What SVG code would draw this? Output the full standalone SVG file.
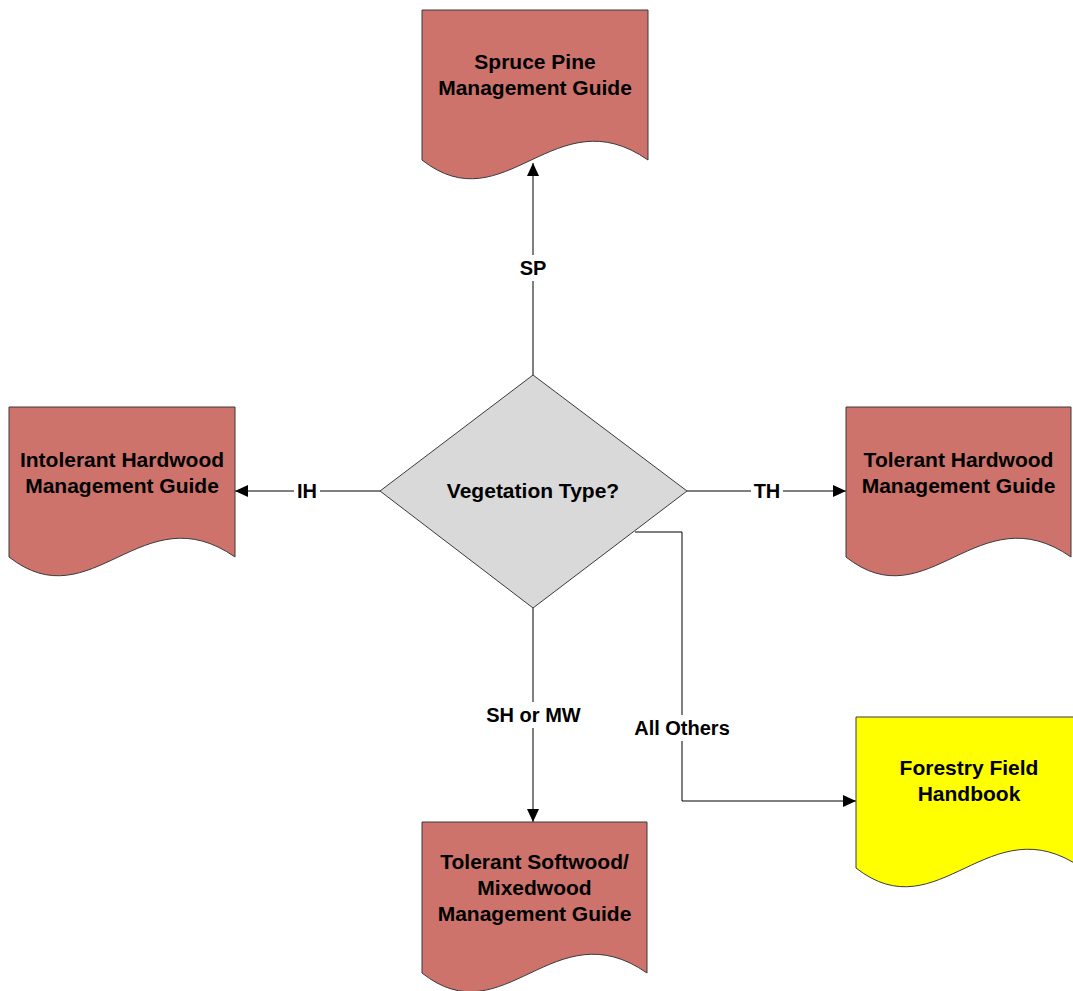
<svg xmlns="http://www.w3.org/2000/svg" width="1073" height="991" viewBox="0 0 1073 991">
<style>
.doc{fill:#CD736C;stroke:#3a3a3a;stroke-width:1}
.yel{fill:#FFFF00;stroke:#3a3a3a;stroke-width:1}
.dia{fill:#D9D9D9;stroke:#3a3a3a;stroke-width:1}
.t{font-family:"Liberation Sans",Arial,sans-serif;font-weight:bold;font-size:21px;fill:#000;text-anchor:middle}
.l{font-family:"Liberation Sans",Arial,sans-serif;font-weight:bold;font-size:20px;fill:#000;text-anchor:middle}
.c{fill:none;stroke:#000;stroke-width:1}
.lb{fill:#fff}
</style>
<defs>
<marker id="ah" markerUnits="userSpaceOnUse" markerWidth="14" markerHeight="12" refX="13" refY="6" orient="auto">
<path d="M0,0 L13,6 L0,12 z" fill="#000"/>
</marker>
</defs>
<rect width="1073" height="991" fill="#fff"/>
<g id="connectors">
<path class="c" d="M533,375 V163" marker-end="url(#ah)"/>
<path class="c" d="M380,491 H235" marker-end="url(#ah)"/>
<path class="c" d="M687,491 H846" marker-end="url(#ah)"/>
<path class="c" d="M533,608 V822" marker-end="url(#ah)"/>
<path class="c" d="M635,532 H682 V801 H856" marker-end="url(#ah)"/>
<rect class="lb" x="517" y="255" width="33" height="26"/>
<text class="l" x="533" y="275">SP</text>
<rect class="lb" x="294" y="478" width="26" height="26"/>
<text class="l" x="307" y="498">IH</text>
<rect class="lb" x="751" y="478" width="32" height="26"/>
<text class="l" x="767" y="498">TH</text>
<rect class="lb" x="482" y="702" width="103" height="26"/>
<text class="l" x="533.5" y="722">SH or MW</text>
<rect class="lb" x="632" y="715" width="100" height="26"/>
<text class="l" x="682" y="735">All Others</text>
</g>
<g id="spruce-pine">
<path class="doc" d="M422,10 H648 V160 C555,95 505,225 422,160 Z"/>
<text class="t" x="535" y="69">Spruce Pine</text>
<text class="t" x="535" y="95">Management Guide</text>
</g>
<g id="intolerant-hardwood">
<path class="doc" d="M9,407 H235 V557 C142,492 92,622 9,557 Z"/>
<text class="t" x="122" y="467">Intolerant Hardwood</text>
<text class="t" x="122" y="493">Management Guide</text>
</g>
<g id="tolerant-hardwood">
<path class="doc" d="M846,407 H1071 V557 C978,492 928,622 846,557 Z"/>
<text class="t" x="958.5" y="467">Tolerant Hardwood</text>
<text class="t" x="958.5" y="493">Management Guide</text>
</g>
<g id="forestry-field-handbook">
<path class="yel" d="M856,717 H1082 V868 C989,803 939,933 856,868 Z"/>
<text class="t" x="969" y="775">Forestry Field</text>
<text class="t" x="969" y="801">Handbook</text>
</g>
<g id="tolerant-softwood">
<path class="doc" d="M422,822 H647 V973 C554,908 504,1038 422,973 Z"/>
<text class="t" x="534.5" y="869">Tolerant Softwood/</text>
<text class="t" x="534.5" y="895">Mixedwood</text>
<text class="t" x="534.5" y="921">Management Guide</text>
</g>
<g id="vegetation-type">
<path class="dia" d="M533,375 L687,491 L533,608 L380,491 Z"/>
<text class="t" x="533" y="498">Vegetation Type?</text>
</g>
</svg>
